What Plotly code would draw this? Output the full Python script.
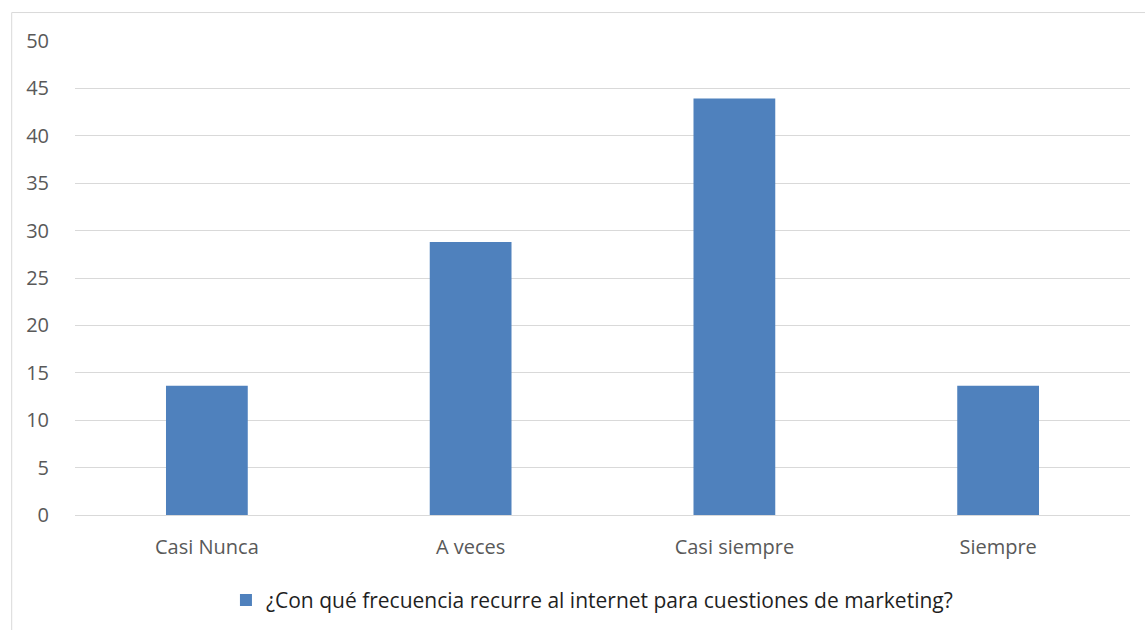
import plotly.graph_objects as go

categorias = ["Casi Nunca", "A veces", "Casi siempre", "Siempre"]
porcentajes = [13.64, 28.79, 43.94, 13.64]
serie = "¿Con qué frecuencia recurre al internet para cuestiones de marketing?"
y_ticks = [0, 5, 10, 15, 20, 25, 30, 35, 40, 45, 50]

fig = go.Figure()
fig.add_trace(go.Bar(
    x=categorias,
    y=porcentajes,
    name=serie,
    marker=dict(color="#4f81bd", line=dict(width=0)),
    width=0.31,
    showlegend=True,
))

fig.update_layout(
    width=1145,
    height=630,
    margin=dict(l=75, r=15, t=41, b=115, autoexpand=False),
    paper_bgcolor="white",
    plot_bgcolor="white",
    font=dict(family="Open Sans, Liberation Sans, sans-serif", size=20, color="#595959"),
    showlegend=True,
    legend=dict(
        orientation="h",
        x=0.49,
        xanchor="center",
        y=-0.18,
        yanchor="middle",
        font=dict(size=21, color="#1f1f1f"),
        itemwidth=30,
    ),
    xaxis=dict(
        showgrid=False,
        showline=False,
        ticks="",
        automargin=False,
        ticklabelstandoff=18,
        tickfont=dict(size=20, color="#595959"),
    ),
    yaxis=dict(
        range=[0, 50],
        tickvals=y_ticks,
        showgrid=True,
        gridcolor="#d9d9d9",
        gridwidth=1,
        zeroline=True,
        zerolinecolor="#d9d9d9",
        zerolinewidth=1,
        showline=False,
        ticks="",
        automargin=False,
        ticklabelstandoff=25,
        tickfont=dict(size=20, color="#595959"),
    ),
    shapes=[
        dict(type="line", xref="paper", yref="paper",
             x0=-0.06, x1=-0.06, y0=1.06, y1=-0.25,
             line=dict(color="#d9d9d9", width=1)),
        dict(type="line", xref="paper", yref="paper",
             x0=-0.06, x1=1.02, y0=1.06, y1=1.06,
             line=dict(color="#d9d9d9", width=1)),
    ],
)

fig.write_html("out.html")
